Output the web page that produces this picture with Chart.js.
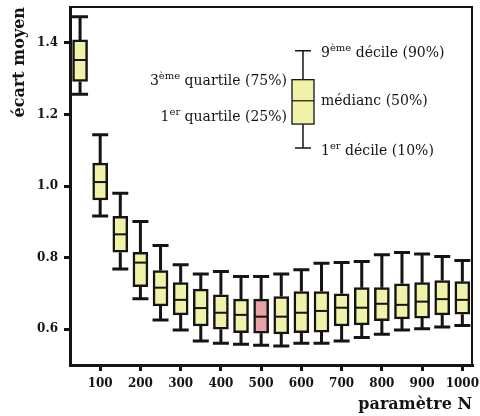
<!DOCTYPE html>
<html>
<head>
<meta charset="utf-8">
<script src="https://cdn.jsdelivr.net/npm/chart.js@4.4.1/dist/chart.umd.min.js"></script>
<style>
  html, body { margin: 0; padding: 0; background: #fff; }
</style>
</head>
<body>
<canvas id="boxChart" width="480" height="416"></canvas>
<script>
// valeurs (déciles et quartiles par valeur de N)
const positions = [50, 100, 150, 200, 250, 300, 350, 400, 450, 500, 550, 600, 650, 700, 750, 800, 850, 900, 950, 1000];
const low    = [1.256, 0.916, 0.768, 0.685, 0.626, 0.598, 0.567, 0.561, 0.558, 0.555, 0.553, 0.561, 0.561, 0.567, 0.577, 0.586, 0.598, 0.601, 0.606, 0.610];
const q1     = [1.292, 0.961, 0.815, 0.719, 0.665, 0.640, 0.609, 0.600, 0.590, 0.589, 0.587, 0.590, 0.592, 0.609, 0.612, 0.624, 0.629, 0.631, 0.640, 0.642];
const median = [1.352, 1.011, 0.865, 0.786, 0.716, 0.682, 0.659, 0.646, 0.640, 0.635, 0.635, 0.646, 0.651, 0.660, 0.660, 0.671, 0.668, 0.677, 0.684, 0.682];
const q3     = [1.408, 1.064, 0.915, 0.815, 0.764, 0.730, 0.712, 0.696, 0.684, 0.684, 0.691, 0.705, 0.705, 0.699, 0.716, 0.716, 0.727, 0.730, 0.736, 0.733];
const high   = [1.473, 1.143, 0.980, 0.901, 0.834, 0.780, 0.754, 0.761, 0.747, 0.747, 0.754, 0.766, 0.784, 0.786, 0.789, 0.808, 0.814, 0.810, 0.803, 0.792];
const highlighted = 500;

const xTicks = [100, 200, 300, 400, 500, 600, 700, 800, 900, 1000];
const yTicks = [0.6, 0.8, 1.0, 1.2, 1.4];

// boîte d'exemple (légende) : position N et valeurs [10%, 25%, 50%, 75%, 90%]
const legendN = 604;
const legendBox = [1.106, 1.173, 1.238, 1.297, 1.378];
const legendLabels = [
  ['9', 'ème', ' décile (90%)'],
  ['', '', 'médianc (50%)'],
  ['1', 'er', ' décile (10%)'],
  ['3', 'ème', ' quartile (75%)'],
  ['1', 'er', ' quartile (25%)']
];

const FONT = "'DejaVu Serif', serif";
const INK = '#141414';
const yellow = '#eff2a8';
const red = '#e9a3a6';

Chart.defaults.font.family = FONT;
Chart.defaults.color = INK;

function drawBox(ctx, xs, ys, n, v, o) {
  const px = xs.getPixelForValue(n);
  const y = v.map(val => ys.getPixelForValue(val));
  ctx.save();
  ctx.strokeStyle = INK;
  ctx.lineWidth = o.whisker;
  ctx.beginPath();
  ctx.moveTo(px, y[4]); ctx.lineTo(px, y[3]);
  ctx.moveTo(px, y[1]); ctx.lineTo(px, y[0]);
  ctx.moveTo(px - o.cap / 2, y[4]); ctx.lineTo(px + o.cap / 2, y[4]);
  ctx.moveTo(px - o.cap / 2, y[0]); ctx.lineTo(px + o.cap / 2, y[0]);
  ctx.stroke();
  if (o.fill) {
    ctx.fillStyle = o.fill;
    ctx.fillRect(px - o.width / 2, y[3], o.width, y[1] - y[3]);
    ctx.lineWidth = o.border;
    ctx.strokeRect(px - o.width / 2, y[3], o.width, y[1] - y[3]);
  }
  ctx.restore();
}

function drawRich(ctx, parts, x, y, align) {
  const base = 'normal 14px ' + FONT;
  const sup = 'normal 10px ' + FONT;
  ctx.font = base; const w0 = ctx.measureText(parts[0]).width;
  ctx.font = sup;  const w1 = ctx.measureText(parts[1]).width;
  ctx.font = base; const w2 = ctx.measureText(parts[2]).width;
  let cx = align === 'right' ? x - (w0 + w1 + w2) : x;
  ctx.textBaseline = 'alphabetic';
  ctx.textAlign = 'left';
  ctx.fillStyle = INK;
  ctx.font = base; ctx.fillText(parts[0], cx, y); cx += w0;
  ctx.font = sup;  ctx.fillText(parts[1], cx, y - 6); cx += w1;
  ctx.font = base; ctx.fillText(parts[2], cx, y);
}

const boxPlugin = {
  id: 'boxPlugin',
  beforeDatasetsDraw(chart) {
    const ctx = chart.ctx, xs = chart.scales.x, ys = chart.scales.y;
    positions.forEach((n, i) => {
      drawBox(ctx, xs, ys, n, [low[i], q1[i], median[i], q3[i], high[i]], { whisker: 3, cap: 16 });
    });
  },
  afterDatasetsDraw(chart) {
    const ctx = chart.ctx, xs = chart.scales.x, ys = chart.scales.y;
    ctx.save();
    ctx.strokeStyle = INK;
    ctx.lineWidth = 2;
    positions.forEach((n, i) => {
      const px = xs.getPixelForValue(n);
      const py = ys.getPixelForValue(median[i]);
      ctx.beginPath();
      ctx.moveTo(px - 6, py); ctx.lineTo(px + 6, py);
      ctx.stroke();
    });
    ctx.restore();

    // légende
    drawBox(ctx, xs, ys, legendN, legendBox, { whisker: 1.5, cap: 16, width: 22, border: 1.3, fill: yellow });
    const lx = xs.getPixelForValue(legendN);
    const ly = legendBox.map(v => ys.getPixelForValue(v));
    ctx.save();
    ctx.strokeStyle = INK; ctx.lineWidth = 1.2;
    ctx.beginPath(); ctx.moveTo(lx - 11, ly[2]); ctx.lineTo(lx + 11, ly[2]); ctx.stroke();
    drawRich(ctx, legendLabels[0], lx + 18, ly[4] + 6, 'left');
    drawRich(ctx, legendLabels[1], lx + 18, ly[2] + 4, 'left');
    drawRich(ctx, legendLabels[2], lx + 18, ly[0] + 6.5, 'left');
    drawRich(ctx, legendLabels[3], lx - 16, ly[3] + 5, 'right');
    drawRich(ctx, legendLabels[4], lx - 16, ly[1] - 3, 'right');
    ctx.restore();
  },
  afterDraw(chart) {
    const { ctx, chartArea: a } = chart;
    ctx.save();
    ctx.strokeStyle = INK; ctx.lineWidth = 2;
    ctx.beginPath();
    ctx.moveTo(a.left, a.top); ctx.lineTo(a.right, a.top); ctx.lineTo(a.right, a.bottom);
    ctx.stroke();
    ctx.restore();
  }
};

const boxData = {
  datasets: [{
    data: positions.map((n, i) => ({ x: n, y: [q1[i], q3[i]] })),
    backgroundColor: positions.map(n => n === highlighted ? red : yellow),
    borderColor: INK,
    borderWidth: 2.5,
    borderSkipped: false,
    barThickness: 15
  }]
};

const boxChart = new Chart(document.getElementById('boxChart').getContext('2d'), {
  type: 'bar',
  data: boxData,
  options: {
    responsive: false,
    animation: false,
    layout: { padding: { top: 7, right: 8, left: 0, bottom: 0 } },
    plugins: { legend: { display: false }, tooltip: { enabled: false } },
    scales: {
      x: {
        type: 'linear', min: 25, max: 1024, offset: false,
        afterBuildTicks: s => { s.ticks = xTicks.map(v => ({ value: v })); },
        afterFit: s => { s.height = 51; s.paddingLeft = 0; s.paddingRight = 0; },
        grid: { display: true, offset: false, drawOnChartArea: false, drawTicks: true, tickLength: 6, lineWidth: 3, color: INK },
        border: { display: true, width: 3, color: INK },
        ticks: { padding: 6, font: { size: 12, weight: 'bold' }, color: INK, maxRotation: 0, callback: v => String(v) },
        title: { display: true, text: 'paramètre N', align: 'end', font: { size: 16, weight: 'bold' }, color: INK, padding: { top: 0, bottom: 2 } }
      },
      y: {
        type: 'linear', min: 0.5, max: 1.5,
        afterBuildTicks: s => { s.ticks = yTicks.map(v => ({ value: v })); },
        afterFit: s => { s.width = 70; s.paddingTop = 0; s.paddingBottom = 0; },
        grid: { display: true, drawOnChartArea: false, drawTicks: true, tickLength: 6, lineWidth: 3, color: INK },
        border: { display: true, width: 3, color: INK },
        ticks: { padding: 6, font: { size: 12, weight: 'bold' }, color: INK, callback: v => v.toFixed(1) },
        title: { display: true, text: 'écart moyen', align: 'end', font: { size: 16, weight: 'bold' }, color: INK, padding: { top: 10, bottom: 0 } }
      }
    }
  },
  plugins: [boxPlugin]
});
</script>
</body>
</html>
